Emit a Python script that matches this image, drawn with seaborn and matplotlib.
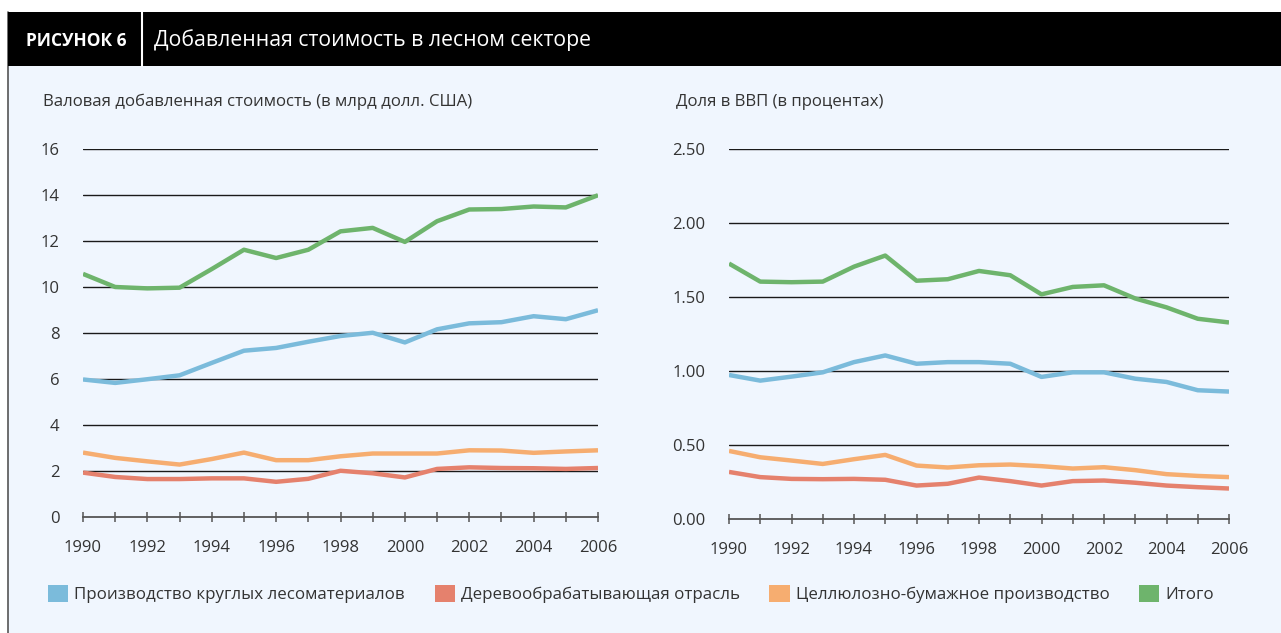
import numpy as np
import pandas as pd
import matplotlib
matplotlib.use("Agg")
import matplotlib.pyplot as plt
from matplotlib.patches import Rectangle, Patch
from matplotlib.lines import Line2D
import seaborn as sns

years = list(range(1990, 2007))

# Gross value added, billion USD
gva_roundwood = [5.98, 5.83, 5.99, 6.16, 6.70, 7.23, 7.35, 7.62, 7.87, 8.01, 7.59, 8.16, 8.42, 8.47, 8.73, 8.60, 8.99]
gva_woodproc = [1.93, 1.74, 1.65, 1.65, 1.68, 1.68, 1.53, 1.66, 2.01, 1.90, 1.72, 2.09, 2.16, 2.13, 2.12, 2.09, 2.13]
gva_pulp = [2.80, 2.57, 2.42, 2.28, 2.52, 2.80, 2.47, 2.47, 2.64, 2.76, 2.76, 2.76, 2.90, 2.89, 2.79, 2.85, 2.90]
gva_total = [10.57, 10.00, 9.94, 9.97, 10.78, 11.62, 11.26, 11.62, 12.42, 12.57, 11.96, 12.86, 13.37, 13.39, 13.50, 13.46, 13.99]

# Share of GDP, percent
gdp_roundwood = [0.973, 0.935, 0.962, 0.991, 1.060, 1.105, 1.049, 1.060, 1.060, 1.049, 0.960, 0.991, 0.991, 0.948, 0.926, 0.870, 0.861]
gdp_woodproc = [0.318, 0.283, 0.271, 0.269, 0.271, 0.265, 0.226, 0.238, 0.280, 0.256, 0.226, 0.256, 0.260, 0.245, 0.226, 0.215, 0.206]
gdp_pulp = [0.460, 0.417, 0.395, 0.372, 0.404, 0.433, 0.361, 0.348, 0.363, 0.368, 0.357, 0.341, 0.350, 0.330, 0.303, 0.291, 0.283]
gdp_total = [1.726, 1.604, 1.600, 1.604, 1.705, 1.780, 1.610, 1.620, 1.676, 1.647, 1.518, 1.568, 1.579, 1.490, 1.430, 1.353, 1.328]

series_names = ["Производство круглых лесоматериалов", "Деревообрабатывающая отрасль",
                "Целлюлозно-бумажное производство", "Итого"]
colors = ["#7bbbdb", "#e5816d", "#f6ad70", "#6eb46c"]

left_ticks = [0, 2, 4, 6, 8, 10, 12, 14, 16]
left_ticklabels = ["0", "2", "4", "6", "8", "10", "12", "14", "16"]
right_ticks = [0.0, 0.5, 1.0, 1.5, 2.0, 2.5]
right_ticklabels = ["0.00", "0.50", "1.00", "1.50", "2.00", "2.50"]

title_label = "РИСУНОК 6"
title_text = "Добавленная стоимость в лесном секторе"
left_sub = "Валовая добавленная стоимость (в млрд долл. США)"
right_sub = "Доля в ВВП (в процентах)"


def long_df(vals):
    rows = []
    for name, v in zip(series_names, vals):
        for y, x in zip(years, v):
            rows.append({"year": y, "value": x, "series": name})
    return pd.DataFrame(rows)


df_left = long_df([gva_roundwood, gva_woodproc, gva_pulp, gva_total])
df_right = long_df([gdp_roundwood, gdp_woodproc, gdp_pulp, gdp_total])

sns.set_theme(style="white")
plt.rcParams["font.family"] = ["Open Sans", "DejaVu Sans"]

W, H = 1281, 633
fig = plt.figure(figsize=(W / 100, H / 100), dpi=100)
fig.patch.set_facecolor("white")

BG = "#f0f6fe"
# panel background
fig.add_artist(Rectangle((8 / W, 0), 1 - 8 / W, 1 - 66 / H, transform=fig.transFigure,
                         facecolor=BG, edgecolor="none", zorder=0))
fig.add_artist(Line2D([8 / W, 8 / W], [0, 1 - 12 / H], transform=fig.transFigure,
                      color="#555555", lw=1.2, zorder=1))
# title bar
fig.add_artist(Rectangle((8 / W, 1 - 66 / H), 1 - 8 / W, 54 / H, transform=fig.transFigure,
                         facecolor="black", edgecolor="none", zorder=1))
fig.add_artist(Line2D([142 / W, 142 / W], [1 - 66 / H, 1 - 12 / H], transform=fig.transFigure,
                      color="white", lw=1.5, zorder=2))
fig.text(26 / W, 1 - 41 / H, title_label, color="white", fontsize=12.5, fontweight="bold",
         va="center", ha="left", zorder=3)
fig.text(154 / W, 1 - 40 / H, title_text, color="white", fontsize=15.3,
         va="center", ha="left", zorder=3)

fig.text(43 / W, 1 - 102 / H, left_sub, color="#333333", fontsize=12.1, va="center", ha="left")
fig.text(676 / W, 1 - 102 / H, right_sub, color="#333333", fontsize=12.1, va="center", ha="left")

ax1 = fig.add_axes([83 / W, 1 - 517 / H, 515 / W, 368 / H])
ax2 = fig.add_axes([729 / W, 1 - 519 / H, 500 / W, 370 / H])


def style(ax, df, ticks, ticklabels, ymax):
    ax.set_facecolor("none")
    sns.lineplot(data=df, x="year", y="value", hue="series", palette=colors,
                 hue_order=series_names, linewidth=3.2, ax=ax, legend=False,
                 solid_capstyle="butt", zorder=3)
    ax.set_xlim(1990, 2006)
    ax.set_ylim(0, ymax)
    ax.set_xlabel("")
    ax.set_ylabel("")
    for s in ["top", "right", "left"]:
        ax.spines[s].set_visible(False)
    ax.spines["bottom"].set_color("#555555")
    ax.spines["bottom"].set_linewidth(1.3)
    ax.set_yticks(ticks)
    ax.set_yticklabels(ticklabels)
    for t in ticks[1:]:
        ax.axhline(t, color="#1a1a1a", lw=1.0, zorder=1)
    ax.tick_params(axis="y", length=0, pad=17, labelsize=12, labelcolor="#333333")
    ax.set_xticks(years)
    ax.set_xticklabels([str(y) if y % 2 == 0 else "" for y in years])
    ax.tick_params(axis="x", direction="inout", length=7, width=1.1, color="#555555",
                   pad=13, labelsize=12, labelcolor="#333333", bottom=True)
    ax.grid(False)


style(ax1, df_left, left_ticks, left_ticklabels, 16)
style(ax2, df_right, right_ticks, right_ticklabels, 2.5)

handles = [Patch(facecolor=c, edgecolor="none") for c in colors]
fig.legend(handles, series_names, loc="center left", bbox_to_anchor=(48 / W, 1 - 594 / H),
           ncol=4, frameon=False, fontsize=12.2, handlelength=1.2, handleheight=1.2,
           handletextpad=0.35, columnspacing=1.75, labelcolor="#333333", borderaxespad=0,
           borderpad=0)

fig.savefig("out.png", dpi=100, facecolor=fig.get_facecolor())
